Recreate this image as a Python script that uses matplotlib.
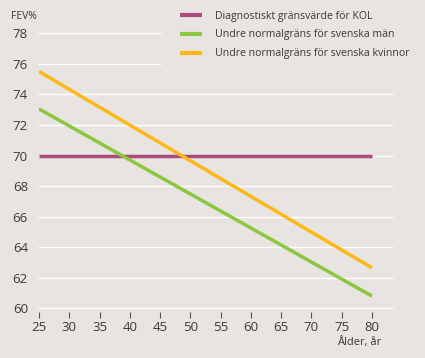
import matplotlib
matplotlib.use('Agg')
import matplotlib.pyplot as plt

# data
ages = [25, 80]
kol = [70, 70]
man = [73.05, 60.8]
kvinnor = [75.5, 62.65]
labels = ["Diagnostiskt gränsvärde för KOL",
          "Undre normalgräns för svenska män",
          "Undre normalgräns för svenska kvinnor"]
colors = ['#a94b7d', '#8dc63f', '#fbb817']
xticks = [25, 30, 35, 40, 45, 50, 55, 60, 65, 70, 75, 80]
yticks = [60, 62, 64, 66, 68, 70, 72, 74, 76, 78]

plt.rcParams['font.family'] = ['Open Sans', 'DejaVu Sans']
bg = '#e7e4e2'
txt = '#3b3838'

W, H = 425, 358
fig = plt.figure(figsize=(W / 100, H / 100), dpi=100)
fig.patch.set_facecolor(bg)
ax = fig.add_axes([39 / W, (H - 308.3) / H, 353 / W, 275 / H])
ax.set_facecolor(bg)
ax.set_xlim(25, 83.3)
ax.set_ylim(60, 78)

# white grid, top two lines cut short by the legend
for y in yticks:
    x_end = 45 if y >= 76 else 83.3
    ax.plot([25, x_end], [y, y], color='white', lw=1.0, zorder=1, clip_on=False)

lw = 2.5
ax.plot(ages, kol, color=colors[0], lw=lw, label=labels[0], zorder=3, solid_capstyle='butt')
ax.plot(ages, man, color=colors[1], lw=lw, label=labels[1], zorder=3, solid_capstyle='butt')
ax.plot(ages, kvinnor, color=colors[2], lw=lw, label=labels[2], zorder=3, solid_capstyle='butt')

for s in ax.spines.values():
    s.set_visible(False)
ax.spines['bottom'].set_position(('outward', 2.5))
ax.set_xticks(xticks)
ax.set_yticks(yticks)
ax.tick_params(axis='x', length=4, width=0.8, color='#555555', pad=3,
               labelsize=9.5, labelcolor=txt)
ax.tick_params(axis='y', length=0, pad=8, labelsize=9.5, labelcolor=txt)

fig.text(11 / W, 1 - 22 / H, "FEV%", fontsize=7.5, color=txt, ha='left', va='bottom')
fig.text(381 / W, 1 - 342 / H, "Ålder, år", fontsize=8, color=txt, ha='right', va='center')

leg = ax.legend(loc='upper left', bbox_to_anchor=(180 / W, 1 - 10.5 / H),
                bbox_transform=fig.transFigure, frameon=False, fontsize=7.6,
                handlelength=2.1, handletextpad=1.2, labelspacing=0.75, borderpad=0,
                borderaxespad=0)
for t in leg.get_texts():
    t.set_color(txt)
for h in leg.get_lines():
    h.set_linewidth(3)

fig.savefig('out.png', dpi=100, facecolor=bg)
